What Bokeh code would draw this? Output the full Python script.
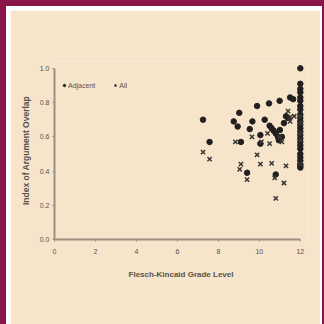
from bokeh.plotting import figure
from bokeh.models import Range1d, Legend, LegendItem
from bokeh.embed import file_html
from bokeh.resources import INLINE

# Adjacent (filled dots)
adj_x = [7.25, 7.57, 9.02, 8.75, 8.94, 9.1, 9.4, 9.53, 9.66, 9.89, 10.05, 10.05, 10.26,
         10.47, 10.5, 10.7, 10.8, 10.99, 10.95, 11.1, 11.2, 11.3, 11.5, 11.65, 10.8,
         10.6, 10.9, 11.0, 11.4,
         12, 12, 12, 12, 12, 12, 12, 12, 12, 12, 12, 12, 12, 12, 12, 12, 12, 12, 12,
         12, 12, 12, 12, 12, 12]
adj_y = [0.70, 0.57, 0.74, 0.69, 0.66, 0.57, 0.39, 0.645, 0.69, 0.78, 0.61, 0.56, 0.70,
         0.795, 0.665, 0.635, 0.62, 0.81, 0.58, 0.60, 0.68, 0.72, 0.83, 0.82, 0.38,
         0.65, 0.60, 0.64, 0.71,
         1.00, 0.91, 0.88, 0.86, 0.83, 0.81, 0.78, 0.76, 0.73, 0.71, 0.69, 0.67, 0.65,
         0.63, 0.61, 0.59, 0.57, 0.55, 0.53, 0.50, 0.48, 0.46, 0.44, 0.43, 0.42]

# All (x markers)
all_x = [7.25, 7.57, 8.83, 9.1, 9.04, 9.4, 9.64, 9.89, 10.05, 10.5, 10.6, 10.75, 10.8,
         10.99, 11.2, 11.3, 11.4, 11.5, 11.5, 11.7, 11.1, 10.1, 10.4,
         12, 12, 12, 12, 12]
all_y = [0.51, 0.47, 0.57, 0.44, 0.41, 0.35, 0.60, 0.495, 0.44, 0.56, 0.445, 0.36, 0.24,
         0.60, 0.33, 0.43, 0.75, 0.715, 0.69, 0.72, 0.57, 0.57, 0.62,
         0.72, 0.68, 0.62, 0.58, 0.44]

x_ticks = [0, 2, 4, 6, 8, 10, 12]
y_ticks = [0.0, 0.2, 0.4, 0.6, 0.8, 1.0]

BEIGE = "#f6e5cb"
MAROON = "#8a1548"
AXIS = "#9a8f80"
TEXT = "#56514c"

p = figure(width=310, height=314, output_backend="svg", toolbar_location=None,
           x_range=Range1d(0, 12.35), y_range=Range1d(0, 1.04),
           min_border_left=44, min_border_right=13, min_border_top=51, min_border_bottom=85,
           background_fill_color=BEIGE, border_fill_color=BEIGE)
p.outline_line_color = None
p.grid.visible = False

r_adj = p.scatter(adj_x, adj_y, marker="circle", size=5.5, fill_color="#231f20",
                  line_color="#231f20")
r_all = p.scatter(all_x, all_y, marker="x", size=6, line_color="#3a3633", line_width=1.5)

for ax in (p.xaxis[0], p.yaxis[0]):
    ax.axis_line_color = AXIS
    ax.axis_line_width = 2
    ax.major_tick_line_color = AXIS
    ax.major_tick_in = 0
    ax.major_tick_out = 2
    ax.minor_tick_line_color = None
    ax.major_label_text_font = "Liberation Sans"
    ax.major_label_text_font_size = "7px"
    ax.major_label_text_color = TEXT
    ax.axis_label_text_font = "Liberation Sans"
    ax.axis_label_text_font_style = "bold"
    ax.axis_label_text_color = TEXT

p.xaxis.ticker = x_ticks
p.xaxis.bounds = (0, 12)
p.xaxis.axis_label = "Flesch-Kincaid Grade Level"
p.xaxis.axis_label_text_font_size = "8px"
p.xaxis.major_label_standoff = 7
p.xaxis.axis_label_standoff = 13

p.yaxis.ticker = y_ticks
p.yaxis.bounds = (0, 1.0)
p.yaxis.major_label_overrides = {0.0: "0.0", 0.2: "0.2", 0.4: "0.4", 0.6: "0.6", 0.8: "0.8", 1.0: "1.0"}
p.yaxis.axis_label = "Index of Argument Overlap"
p.yaxis.axis_label_text_font_size = "8.5px"
p.yaxis.major_label_standoff = 3
p.yaxis.axis_label_standoff = 6

legend = Legend(items=[LegendItem(label="Adjacent", renderers=[r_adj]),
                       LegendItem(label="All", renderers=[r_all])],
                orientation="horizontal", location=(7, 150),
                background_fill_alpha=0, border_line_color=None,
                label_text_font="Liberation Sans", label_text_font_size="7px",
                label_text_color=TEXT, glyph_width=6, glyph_height=6,
                label_standoff=1, spacing=17, padding=2, margin=0,
                label_height=8)
p.add_layout(legend)

html = file_html(p, INLINE)
style = ("<style>html{background:%s !important;}"
         "body{background:linear-gradient(#ffffff,#ffffff) 6px 6px / 316px 330px no-repeat, %s !important;"
         "padding:10px 4px 0 10px !important;}</style>" % (MAROON, MAROON))
if "</head>" in html:
    html = html.replace("</head>", style + "</head>", 1)
else:
    html = style + html
open("out.html", "w").write(html)
